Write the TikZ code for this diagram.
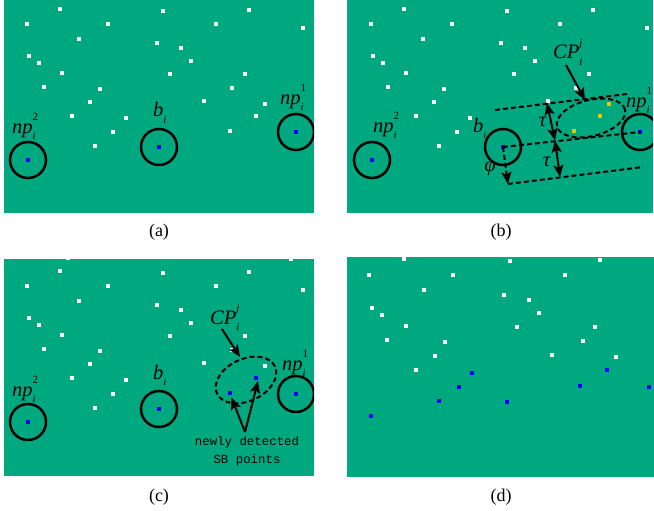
\documentclass[tikz,border=0pt]{standalone}
\usepackage{fontspec}
\setmainfont{Liberation Serif}
\newfontfamily\monofont{Liberation Mono}
\usetikzlibrary{arrows.meta}
\definecolor{bggreen}{RGB}{0,168,128}
\definecolor{dotblue}{RGB}{0,0,255}
\definecolor{dotyellow}{RGB}{230,200,0}
\newcommand{\symlab}[3]{\textit{#1}\rlap{\raisebox{-0.3em}{\fontsize{11}{11}\selectfont\textit{#2}}}\raisebox{0.62em}{\fontsize{11}{11}\selectfont #3}}
\newcommand{\sqdot}[3]{\fill[#1] ({#2-1.9},{#3-1.9}) rectangle ({#2+1.9},{#3+1.9});}
\def\basewhites{68/-4,291/-3,60/9,163/11,249/10,27/24,108/24,216/24,303/28,79/39,157/43,181/48,29/56,39/63,191/61,62/73,170/74,245/74,44/87,100/89,232/88,90/102,204/101,72/116,126/118,113/132,95/146}
\def\dwhites{404.3/258.7,510.3/261,600/259.7,369.3/274.7,453.3/274.7,565.3/274.7,424/290.3,504.3/295,529/300,371.7/308.3,382.3/315,539.3/312.7,405.7/325.7,517.3/327,595.3/327,387/339.7,445/342,582.7/340.7,434.7/356,552.3/355,616.3/357.3,416/370.3}
\def\dblues{472/373,459.3/387,439.3/401,507/402.3,370.7/416,580.3/385.7,607/370.3,649.3/387}
\tikzset{
  ring/.style={circle,draw=black,line width=2.5pt,minimum size=36pt,inner sep=0pt},
  dline/.style={line width=2pt,dash pattern=on 5pt off 3pt},
  tipS/.tip={Stealth[length=12pt,width=10pt,inset=2.5pt]},
  arr/.style={line width=2pt,-tipS},
  darr/.style={line width=2pt,tipS-tipS},
  lab/.style={font=\fontsize{20.5}{22}\selectfont,inner sep=0pt,anchor=base west},
  glab/.style={font=\fontsize{20.5}{22}\selectfont\itshape,inner sep=0pt},
  captext/.style={font=\fontsize{18}{20}\selectfont,inner sep=0pt},
  monotext/.style={font=\monofont\fontsize{12.4}{14}\selectfont,inner sep=0pt,anchor=base}
}
\begin{document}
\begin{tikzpicture}[x=1pt,y=-1pt]
\useasboundingbox (0,0) rectangle (654,511);
\fill[white] (0,0) rectangle (654,511);

% ---------------- panel (a)
\begin{scope}
  \clip (4,0) rectangle (314,213);
  \fill[bggreen] (4,0) rectangle (314,213);
  \foreach \x/\y in \basewhites {\sqdot{white}{\x}{\y}}
  \foreach \x/\y in {265/104,256/116,230/131} {\sqdot{white}{\x}{\y}}
  \foreach \x/\y in {28/160,159/147,296/132} {\sqdot{dotblue}{\x}{\y}}
  \node[ring] (a-np2) at (28,160) {};
  \node[ring] (a-bi) at (159,147) {};
  \node[ring] (a-np1) at (296,132) {};
  \node[lab] (a-np2lab) at (12,133) {\symlab{np}{i}{2}};
  \node[lab] (a-bilab) at (153,117) {\symlab{b}{i}{}};
  \node[lab] (a-np1lab) at (280,104.5) {\symlab{np}{i}{1}};
\end{scope}

% ---------------- panel (b)
\begin{scope}
  \clip (347,0) rectangle (653,213);
  \fill[bggreen] (347,0) rectangle (653,213);
  \begin{scope}[shift={(344,0)}]
    \foreach \x/\y in \basewhites {\sqdot{white}{\x}{\y}}
    \foreach \x/\y in {265/104,256/116,230/131} {\sqdot{dotyellow}{\x}{\y}}
    \foreach \x/\y in {28/160,159/147,296/132} {\sqdot{dotblue}{\x}{\y}}
  \end{scope}
  \node[ring] (b-np2) at (372,160) {};
  \node[ring] (b-bi) at (503,147) {};
  \node[ring] (b-np1) at (640,132) {};
  \coordinate (b-u1) at (495,110);
  \coordinate (b-u2) at (627,94);
  \coordinate (b-l1) at (508,184);
  \coordinate (b-l2) at (643,167);
  \coordinate (b-t1) at (547,103);
  \coordinate (b-t2) at (555,140.5);
  \coordinate (b-t3) at (560,177);
  \coordinate (b-cp) at (591,118);
  \draw[dline] (b-u1) -- (b-u2);
  \draw[dline] (b-bi.center) -- (b-np1.center);
  \draw[dline] (b-l1) -- (b-l2);
  \draw[dline,-tipS] (b-bi.center) -- (b-l1);
  \draw[darr] (b-t1) -- (b-t2);
  \draw[darr] (b-t2) -- (b-t3);
  \draw[dline,rotate around={14:(b-cp)}] (b-cp) ellipse [x radius=35pt,y radius=18pt];
  \node[lab] (b-np2lab) at (373,132) {\symlab{np}{i}{2}};
  \node[lab] (b-bilab) at (473,132) {\symlab{b}{i}{}};
  \node[lab] (b-np1lab) at (626,107) {\symlab{np}{i}{1}};
  \node[lab] (b-cplab) at (553,59) {\symlab{CP}{i}{\textit{j}}};
  \coordinate (b-cpa) at (566,65);
  \coordinate (b-cpb) at (585,100);
  \draw[arr] (b-cpa) -- (b-cpb);
  \node[glab] (b-tau1) at (542.5,122) {τ};
  \node[glab] (b-tau2) at (546.5,162) {τ};
  \node[glab] (b-phi) at (490,169) {φ};
\end{scope}

% ---------------- panel (c)
\begin{scope}
  \clip (4,259) rectangle (314,476);
  \fill[bggreen] (4,259) rectangle (314,476);
  \begin{scope}[shift={(0,262)}]
    \foreach \x/\y in \basewhites {\sqdot{white}{\x}{\y}}
    \foreach \x/\y in {265/104} {\sqdot{white}{\x}{\y}}
    \foreach \x/\y in {256/116,230/131,28/160,159/147,296/132} {\sqdot{dotblue}{\x}{\y}}
  \end{scope}
  \node[ring] (c-np2) at (28,422) {};
  \node[ring] (c-bi) at (159,409) {};
  \node[ring] (c-np1) at (296,394) {};
  \coordinate (c-cp) at (246,380);
  \draw[dline,rotate around={25:(c-cp)}] (c-cp) ellipse [x radius=32pt,y radius=21pt];
  \node[lab] (c-np2lab) at (12,396) {\symlab{np}{i}{2}};
  \node[lab] (c-bilab) at (153,379) {\symlab{b}{i}{}};
  \node[lab] (c-np1lab) at (282,370) {\symlab{np}{i}{1}};
  \node[lab] (c-cplab) at (210,324) {\symlab{CP}{i}{\textit{j}}};
  \coordinate (c-cpa) at (222,329);
  \coordinate (c-cpb) at (240,357);
  \draw[arr] (c-cpa) -- (c-cpb);
  \coordinate (c-apex) at (245,432);
  \coordinate (c-tip1) at (231.5,397.5);
  \coordinate (c-tip2) at (258,381);
  \draw[arr] (c-apex) -- (c-tip1);
  \draw[arr] (c-apex) -- (c-tip2);
  \node[monotext] (c-txt1) at (247,445) {newly detected};
  \node[monotext] (c-txt2) at (247,463.3) {SB points};
\end{scope}

% ---------------- panel (d)
\begin{scope}
  \clip (347,257) rectangle (654,477);
  \fill[bggreen] (347,257) rectangle (654,477);
  \foreach \x/\y in \dwhites {\sqdot{white}{\x}{\y}}
  \foreach \x/\y in \dblues {\sqdot{dotblue}{\x}{\y}}
\end{scope}

% ---------------- captions
\node[captext] (capa) at (159,232) {(a)};
\node[captext] (capb) at (501,232) {(b)};
\node[captext] (capc) at (159,497) {(c)};
\node[captext] (capd) at (501,497) {(d)};
\end{tikzpicture}
\end{document}
